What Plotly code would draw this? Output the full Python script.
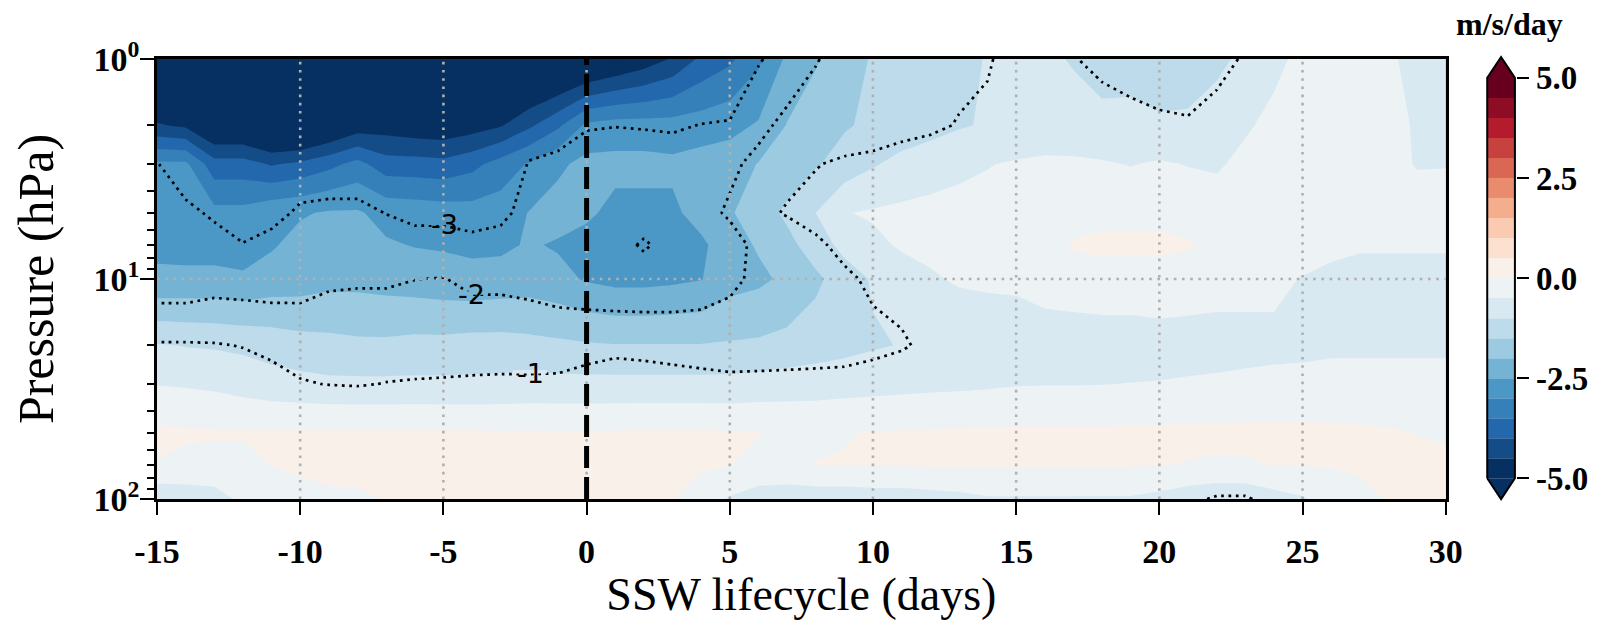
import numpy as np
import plotly.graph_objects as go

# ---------------------------------------------------------------------------
# Composite zonal-wind tendency across the SSW lifecycle
# ---------------------------------------------------------------------------
days = list(range(-15, 31))
plev = [1, 2, 3, 5, 7, 10, 20, 30, 50, 70, 100]

# Shaded field (m/s/day), one row per pressure level, days -15 .. 30
shade_1 = [-5.8, -5.9, -6.0, -6.1, -6.2, -6.2, -6.1, -6.0, -6.0, -6.1, -6.0, -5.9, -5.8, -5.7, -5.6,
           -5.4, -5.1, -4.8, -4.45, -3.9, -3.6, -3.1, -2.4, -2.05, -1.75, -1.45, -1.35, -1.2, -1.1, -0.98,
           -0.9, -0.95, -1.02, -1.15, -1.2, -1.2, -1.15, -1.05, -0.95, -0.6, -0.4, -0.3, -0.3, -0.45, -0.6, -0.7]
shade_2 = [-4.45, -4.6, -5.2, -5.2, -5.6, -5.6, -5.2, -4.8, -4.75, -4.85, -4.9, -4.75, -4.55, -4.1, -3.6,
           -2.9, -2.8, -2.8, -2.8, -2.75, -2.65, -2.45, -1.98, -1.75, -1.55, -1.4, -1.3, -1.2, -1.05, -0.95,
           -0.9, -0.85, -0.9, -0.9, -0.85, -0.95, -0.95, -0.9, -0.55, -0.4, -0.35, -0.3, -0.3, -0.35, -0.55, -0.6]
shade_3 = [-2.9, -2.9, -3.8, -3.8, -4.05, -3.9, -3.65, -3.34, -3.78, -3.8, -3.85, -3.65, -3.3, -2.95, -2.6,
           -2.35, -2.35, -2.35, -2.4, -2.3, -2.25, -1.98, -1.8, -1.55, -1.3, -1.05, -0.85, -0.7, -0.6, -0.52,
           -0.45, -0.4, -0.4, -0.45, -0.52, -0.45, -0.52, -0.55, -0.4, -0.35, -0.3, -0.3, -0.35, -0.4, -0.52, -0.52]
shade_5 = [-2.75, -2.8, -2.85, -2.85, -2.63, -2.55, -2.45, -2.45, -2.65, -2.7, -2.75, -2.8, -2.75, -2.48, -2.3,
           -2.4, -2.65, -2.65, -2.6, -2.3, -2.05, -1.75, -1.4, -1.0, -0.52, -0.45, -0.4, -0.38, -0.36, -0.35,
           -0.35, -0.3, -0.2, -0.15, -0.15, -0.15, -0.2, -0.3, -0.35, -0.35, -0.35, -0.35, -0.35, -0.35, -0.35, -0.3]
shade_7 = [-2.6, -2.65, -2.65, -2.65, -2.55, -2.35, -2.2, -2.3, -2.45, -2.52, -2.55, -2.6, -2.6, -2.45, -2.55,
           -2.7, -2.85, -2.9, -2.8, -2.6, -2.2, -1.95, -1.65, -1.25, -0.85, -0.6, -0.45, -0.4, -0.38, -0.36,
           -0.4, -0.2, 0.05, 0.1, 0.1, 0.1, 0.05, -0.1, -0.2, -0.25, -0.3, -0.4, -0.45, -0.45, -0.45, -0.45]
shade_10 = [-2.42, -2.4, -2.4, -2.45, -2.3, -2.25, -2.15, -2.15, -2.2, -2.25, -2.3, -2.35, -2.3, -2.25, -2.35,
            -2.55, -2.65, -2.65, -2.6, -2.52, -2.2, -2.1, -1.9, -1.6, -1.25, -0.95, -0.7, -0.55, -0.45, -0.42,
            -0.4, -0.3, -0.25, -0.2, -0.2, -0.2, -0.25, -0.3, -0.35, -0.4, -0.52, -0.6, -0.65, -0.65, -0.65, -0.65]
shade_20 = [-0.97, -1.02, -1.05, -1.1, -1.2, -1.3, -1.35, -1.4, -1.4, -1.35, -1.35, -1.3, -1.3, -1.35, -1.4,
            -1.45, -1.48, -1.48, -1.48, -1.48, -1.45, -1.42, -1.35, -1.25, -1.15, -1.05, -0.98, -0.9, -0.85, -0.8,
            -0.8, -0.75, -0.75, -0.75, -0.75, -0.7, -0.7, -0.7, -0.65, -0.6, -0.58, -0.55, -0.55, -0.55, -0.55, -0.55]
shade_30 = [-0.52, -0.55, -0.6, -0.7, -0.8, -0.85, -0.9, -0.9, -0.9, -0.9, -0.9, -0.9, -0.88, -0.85, -0.85,
            -0.85, -0.85, -0.85, -0.85, -0.85, -0.85, -0.8, -0.75, -0.72, -0.7, -0.68, -0.65, -0.62, -0.6, -0.57,
            -0.53, -0.52, -0.52, -0.51, -0.49, -0.48, -0.45, -0.42, -0.4, -0.4, -0.4, -0.4, -0.4, -0.4, -0.4, -0.4]
shade_50 = [0.1, 0.06, 0.05, 0.04, 0.05, 0.06, 0.06, 0.05, 0.05, 0.06, 0.05, 0.05, 0.04, 0.04, 0.03,
            0.02, 0.04, 0.05, 0.05, 0.05, 0.03, 0.01, -0.05, -0.08, -0.02, 0.02, 0.04, 0.05, 0.06, 0.07,
            0.08, 0.08, 0.08, 0.08, 0.08, 0.09, 0.1, 0.1, 0.11, 0.12, 0.12, 0.1, 0.08, 0.05, -0.01, -0.05]
shade_70 = [-0.02, -0.1, -0.15, -0.12, 0.01, 0.05, 0.08, 0.1, 0.11, 0.12, 0.12, 0.11, 0.1, 0.1, 0.1,
            0.1, 0.1, 0.1, 0.08, 0.05, 0.01, -0.1, -0.1, 0.01, 0.02, 0.02, 0.03, 0.05, 0.05, 0.05,
            0.05, 0.05, 0.05, 0.04, 0.03, 0.02, -0.02, -0.05, -0.04, 0.01, 0.02, 0.03, 0.05, 0.07, 0.08, 0.08]
shade_100 = [-0.9, -0.8, -0.7, -0.4, -0.2, -0.1, -0.05, -0.05, 0.01, 0.02, 0.05, 0.05, 0.05, 0.05, 0.05,
             0.05, 0.05, 0.02, 0.01, -0.2, -0.55, -0.75, -0.8, -0.8, -0.8, -0.75, -0.75, -0.7, -0.65, -0.55,
             -0.55, -0.55, -0.55, -0.55, -0.55, -0.65, -0.8, -0.9, -0.9, -0.7, -0.55, -0.3, -0.1, 0.02, 0.05, 0.05]

# Dotted contour field (m/s/day), same grid
line_1 = [-5.0, -5.1, -5.2, -5.2, -5.3, -5.3, -5.2, -5.1, -5.1, -5.2, -5.2, -5.1, -5.0, -4.9, -4.9,
          -4.8, -4.6, -4.4, -4.2, -4.0, -3.6, -3.1, -2.5, -2.05, -1.7, -1.5, -1.35, -1.25, -1.15, -1.05,
          -0.8, -0.85, -0.97, -1.15, -1.25, -1.3, -1.3, -1.15, -0.95, -0.8, -0.7, -0.65, -0.65, -0.7, -0.75, -0.8]
line_2 = [-3.6, -4.2, -4.3, -4.5, -4.4, -4.2, -4.1, -4.1, -4.2, -4.2, -4.2, -4.2, -4.1, -3.5, -3.4,
          -3.05, -3.02, -3.05, -3.1, -2.98, -2.95, -2.2, -1.8, -1.6, -1.4, -1.3, -1.15, -1.1, -0.97, -0.9,
          -0.8, -0.75, -0.7, -0.72, -0.82, -0.91, -0.95, -0.83, -0.7, -0.6, -0.55, -0.5, -0.5, -0.55, -0.6, -0.65]
line_3 = [-2.97, -3.4, -3.6, -3.8, -3.7, -3.4, -3.5, -3.5, -3.5, -3.7, -3.7, -3.7, -3.6, -2.95, -2.8,
          -2.7, -2.6, -2.6, -2.6, -2.4, -2.15, -1.8, -1.3, -1.03, -0.9, -0.85, -0.8, -0.7, -0.6, -0.55,
          -0.5, -0.45, -0.45, -0.45, -0.5, -0.5, -0.5, -0.5, -0.45, -0.4, -0.35, -0.35, -0.4, -0.45, -0.5, -0.5]
line_5 = [-2.8, -2.85, -3.1, -3.4, -3.2, -2.9, -2.8, -2.8, -3.02, -3.2, -3.2, -3.3, -3.2, -2.7, -2.6,
          -2.65, -2.75, -2.8, -2.7, -2.25, -1.9, -1.25, -0.92, -0.8, -0.7, -0.6, -0.5, -0.45, -0.4, -0.35,
          -0.3, -0.25, -0.2, -0.15, -0.15, -0.15, -0.2, -0.3, -0.35, -0.35, -0.35, -0.35, -0.35, -0.35, -0.35, -0.3]
line_7 = [-2.7, -2.75, -2.75, -2.97, -2.8, -2.7, -2.5, -2.45, -2.6, -2.7, -2.7, -2.8, -2.7, -2.5, -2.6,
          -2.75, -2.85, -3.05, -2.85, -2.5, -2.3, -1.8, -1.6, -1.1, -0.85, -0.7, -0.6, -0.5, -0.45, -0.4,
          -0.35, -0.2, 0.0, 0.05, 0.05, 0.05, 0.0, -0.1, -0.2, -0.25, -0.3, -0.4, -0.45, -0.45, -0.45, -0.45]
line_10 = [-2.62, -2.62, -2.42, -2.45, -2.45, -2.4, -2.15, -2.1, -2.1, -2.01, -1.97, -2.2, -2.2, -2.3, -2.45,
           -2.6, -2.8, -2.8, -2.75, -2.6, -2.2, -1.8, -1.55, -1.3, -1.1, -0.9, -0.85, -0.8, -0.7, -0.6,
           -0.45, -0.35, -0.3, -0.25, -0.25, -0.25, -0.3, -0.35, -0.4, -0.45, -0.5, -0.55, -0.6, -0.6, -0.6, -0.6]
line_20 = [-0.92, -0.92, -0.95, -1.03, -1.2, -1.3, -1.35, -1.4, -1.4, -1.35, -1.35, -1.35, -1.35, -1.35, -1.4,
           -1.3, -1.15, -1.2, -1.25, -1.3, -1.47, -1.4, -1.35, -1.3, -1.25, -1.15, -1.05, -0.9, -0.85, -0.8,
           -0.75, -0.75, -0.75, -0.75, -0.75, -0.7, -0.7, -0.7, -0.65, -0.6, -0.6, -0.6, -0.6, -0.6, -0.6, -0.6]
line_30 = [-0.6, -0.6, -0.65, -0.6, -0.7, -0.95, -1.02, -1.05, -0.98, -0.95, -0.93, -0.9, -0.88, -0.88, -0.85,
           -0.7, -0.7, -0.7, -0.75, -0.8, -0.79, -0.8, -0.8, -0.8, -0.8, -0.75, -0.7, -0.65, -0.6, -0.55,
           -0.5, -0.5, -0.5, -0.5, -0.5, -0.48, -0.45, -0.4, -0.38, -0.38, -0.4, -0.4, -0.4, -0.4, -0.4, -0.4]
line_50 = [0.1, 0.06, 0.05, 0.04, 0.05, 0.06, 0.06, 0.05, 0.05, 0.06, 0.05, 0.05, 0.04, 0.04, 0.03,
           0.02, 0.04, 0.05, 0.05, 0.05, 0.03, 0.01, -0.05, -0.08, -0.02, 0.02, 0.04, 0.05, 0.06, 0.07,
           0.08, 0.08, 0.08, 0.08, 0.08, 0.09, 0.1, 0.1, 0.11, 0.12, 0.12, 0.1, 0.08, 0.05, -0.01, -0.05]
line_70 = [-0.02, -0.1, -0.15, -0.12, 0.01, 0.05, 0.08, 0.1, 0.11, 0.12, 0.12, 0.11, 0.1, 0.1, 0.1,
           0.1, 0.1, 0.1, 0.08, 0.05, 0.01, -0.1, -0.1, 0.01, 0.02, 0.02, 0.03, 0.05, 0.05, 0.05,
           0.05, 0.05, 0.05, 0.04, 0.03, 0.02, -0.4, -0.5, -0.5, -0.4, 0.02, 0.03, 0.05, 0.07, 0.08, 0.08]
line_100 = [-0.6, -0.55, -0.55, -0.4, -0.2, -0.1, -0.05, -0.05, 0.01, 0.02, 0.05, 0.05, 0.05, 0.05, 0.05,
            0.05, 0.05, 0.02, 0.01, -0.1, -0.3, -0.5, -0.6, -0.6, -0.58, -0.55, -0.55, -0.55, -0.52, -0.5,
            -0.45, -0.45, -0.45, -0.45, -0.45, -0.6, -0.9, -1.05, -1.05, -0.85, -0.5, -0.3, -0.1, 0.02, 0.05, 0.05]

shade = [shade_1, shade_2, shade_3, shade_5, shade_7, shade_10, shade_20, shade_30, shade_50, shade_70, shade_100]
lines = [line_1, line_2, line_3, line_5, line_7, line_10, line_20, line_30, line_50, line_70, line_100]

# Contour levels, inline label spots (day, hPa) and axis labels
fill_start, fill_end, fill_step = -5.0, 5.0, 0.5
line_levels = [-3, -2, -1]
label_text = ["-3", "-2", "-1"]
label_day = [-4.96, -4.03, -1.97]
label_hpa = [5.68, 11.8, 26.9]
x_ticks = [-15, -10, -5, 0, 5, 10, 15, 20, 25, 30]
x_ticktext = ["-15", "-10", "-5", "0", "5", "10", "15", "20", "25", "30"]
y_ticks = [1, 10, 100]
y_ticktext = ["10<sup>0</sup>", "10<sup>1</sup>", "10<sup>2</sup>"]
y_minor = [2, 3, 4, 5, 6, 7, 8, 9, 20, 30, 40, 50, 60, 70, 80, 90]
cb_ticks = [-5.0, -2.5, 0.0, 2.5, 5.0]
cb_ticktext = ["-5.0", "-2.5", "0.0", "2.5", "5.0"]
onset_day = 0

# ---------------------------------------------------------------------------
# Discrete RdBu_r palette (same sampling as a 20-band filled contour)
# ---------------------------------------------------------------------------
_rdbu_r = ["#053061", "#2166ac", "#4393c3", "#92c5de", "#d1e5f0", "#f7f7f7",
           "#fddbc7", "#f4a582", "#d6604d", "#b2182b", "#67001f"]


def _hex2rgb(h):
    return np.array([int(h[i:i + 2], 16) for i in (1, 3, 5)], dtype=float)


_anchor_rgb = np.array([_hex2rgb(h) for h in _rdbu_r])


def rdbu_r(t):
    pos = np.linspace(0, 1, len(_rdbu_r))
    rgb = [np.interp(t, pos, _anchor_rgb[:, k]) for k in range(3)]
    return "rgb(%d,%d,%d)" % tuple(int(round(v)) for v in rgb)


fill_levels = np.arange(fill_start, fill_end + fill_step / 2, fill_step)
n_bands = len(fill_levels) - 1
band_colors = [rdbu_r(k / (n_bands - 1)) for k in range(n_bands)]
under_color, over_color = rdbu_r(0.0), rdbu_r(1.0)
all_colors = [under_color] + band_colors + [over_color]
colorscale = [[i / (len(all_colors) - 1), c] for i, c in enumerate(all_colors)]


def shade_color_at(day, hpa):
    """Band colour of the shaded field at a point (bilinear in day / log p)."""
    z = np.array(shade)
    lp = np.log10(plev)
    col = np.array([np.interp(day, days, row) for row in z])
    val = np.interp(np.log10(hpa), lp, col)
    k = int(np.clip(np.floor((val - fill_start) / fill_step), -1, n_bands))
    if k < 0:
        return under_color
    if k >= n_bands:
        return over_color
    return band_colors[k]


SERIF = "Liberation Serif"
TICK_FONT = dict(family=SERIF, size=34, color="black", weight="bold")
CB_TICK_FONT = dict(family=SERIF, size=33, color="black", weight="bold")
XTITLE_FONT = dict(family=SERIF, size=46, color="black")
YTITLE_FONT = dict(family=SERIF, size=50, color="black")
GRID = dict(color="#b0b0b0", width=2.6, dash="2.6px,5.6px")

fig = go.Figure()

# filled bands
fig.add_trace(go.Contour(
    x=days, y=plev, z=shade,
    autocontour=False,
    contours=dict(start=fill_start, end=fill_end, size=fill_step,
                  coloring="fill", showlines=False),
    colorscale=colorscale, showscale=False,
    line=dict(width=0, smoothing=0),
    hoverinfo="skip",
))

# dotted contour lines
fig.add_trace(go.Contour(
    x=days, y=plev, z=lines,
    autocontour=False,
    contours=dict(start=min(line_levels), end=max(line_levels), size=1,
                  coloring="none", showlabels=False),
    line=dict(color="black", width=2.7, dash="2.7px,4.6px", smoothing=0),
    showscale=False, hoverinfo="skip",
))

# dotted grid drawn above the shading
for xv in x_ticks[1:-1]:
    fig.add_trace(go.Scatter(x=[xv, xv], y=[plev[-1], plev[0]], mode="lines",
                             line=GRID, hoverinfo="skip", showlegend=False))
for yv in y_ticks[1:-1]:
    fig.add_trace(go.Scatter(x=[days[0], days[-1]], y=[yv, yv], mode="lines",
                             line=GRID, hoverinfo="skip", showlegend=False))

# onset marker
fig.add_trace(go.Scatter(x=[onset_day, onset_day], y=[plev[-1], plev[0]], mode="lines",
                         line=dict(color="black", width=5, dash="22px,9px"),
                         hoverinfo="skip", showlegend=False))

# ---------------------------------------------------------------------------
# Colour bar with triangular extensions
# ---------------------------------------------------------------------------
ext = 0.52
fig.add_trace(go.Bar(
    x=[0] * n_bands, y=[fill_step] * n_bands, base=list(fill_levels[:-1]),
    width=1.0, marker=dict(color=band_colors, line=dict(width=0)),
    xaxis="x2", yaxis="y2", hoverinfo="skip", showlegend=False,
))
lo, hi = fill_levels[0], fill_levels[-1]
fig.add_trace(go.Scatter(x=[-0.5, 0.5, 0, -0.5], y=[hi, hi, hi + ext, hi], mode="lines",
                         fill="toself", fillcolor=over_color, line=dict(width=0),
                         xaxis="x2", yaxis="y2", hoverinfo="skip", showlegend=False))
fig.add_trace(go.Scatter(x=[-0.5, 0.5, 0, -0.5], y=[lo, lo, lo - ext, lo], mode="lines",
                         fill="toself", fillcolor=under_color, line=dict(width=0),
                         xaxis="x2", yaxis="y2", hoverinfo="skip", showlegend=False))
fig.add_trace(go.Scatter(x=[-0.5, -0.5, 0, 0.5, 0.5, 0, -0.5],
                         y=[lo, hi, hi + ext, hi, lo, lo - ext, lo], mode="lines",
                         line=dict(color="black", width=2),
                         xaxis="x2", yaxis="y2", hoverinfo="skip", showlegend=False))

W, H = 1609, 620
ML, MR, MT, MB = 157, 0, 50, 115
plot_w = W - ML - MR
plot_h = H - MT - MB


def px_x(px):
    return (px - ML) / plot_w


def px_y(py):
    return (H - MB - py) / plot_h


# inline contour labels: a thin patch in the local band colour breaks the
# dotted line, then the label text sits on top
shapes = []
annotations = []
for txt, d, p in zip(label_text, label_day, label_hpa):
    shapes.append(dict(
        type="rect", layer="above", xref="x", yref="y",
        xsizemode="pixel", xanchor=d, x0=-17, x1=17,
        ysizemode="pixel", yanchor=p, y0=-3.5, y1=3.5,
        fillcolor=shade_color_at(d, p), line=dict(width=0),
    ))
    annotations.append(dict(
        text=txt, x=d, y=np.log10(p), xref="x", yref="y",
        showarrow=False, xanchor="center", yanchor="middle",
        font=dict(family="DejaVu Sans", size=27, color="black"),
    ))
annotations.append(dict(
    text="m/s/day", xref="paper", x=px_x(1526), yref="paper", y=px_y(24),
    xanchor="center", yanchor="middle", showarrow=False,
    font=dict(family=SERIF, size=32, color="black", weight="bold"),
))

fig.update_layout(
    width=W, height=H,
    margin=dict(l=ML, r=MR, t=MT, b=MB),
    paper_bgcolor="white", plot_bgcolor="white",
    font=dict(family=SERIF, color="black"),
    showlegend=False,
    barmode="overlay",
    xaxis=dict(
        domain=[0, px_x(1461)], range=[days[0], days[-1]],
        tickmode="array", tickvals=x_ticks, ticktext=x_ticktext,
        ticks="outside", ticklen=13, tickwidth=2, tickcolor="black",
        tickfont=TICK_FONT, ticklabelstandoff=7,
        showline=True, linewidth=2.5, linecolor="black", mirror=True,
        showgrid=False, zeroline=False, layer="above traces",
        title=dict(text="SSW lifecycle (days)", font=XTITLE_FONT, standoff=6),
    ),
    yaxis=dict(
        domain=[px_y(499), px_y(59)],
        type="log", range=[np.log10(plev[-1]), np.log10(plev[0])],
        tickmode="array", tickvals=y_ticks, ticktext=y_ticktext,
        ticks="outside", ticklen=14, tickwidth=2, tickcolor="black",
        tickfont=TICK_FONT, ticklabelstandoff=-6,
        minor=dict(tickvals=y_minor, ticks="outside", ticklen=7, tickwidth=1.6,
                   tickcolor="black", showgrid=False),
        showline=True, linewidth=2.5, linecolor="black", mirror=True,
        showgrid=False, zeroline=False, layer="above traces",
        title=dict(text="Pressure (hPa)", font=YTITLE_FONT, standoff=25),
    ),
    xaxis2=dict(
        domain=[px_x(1501.6), px_x(1532.4)], range=[-0.55, 0.55], anchor="y2",
        visible=False, fixedrange=True,
    ),
    yaxis2=dict(
        domain=[px_y(502.3), px_y(53.9)], range=[-5.6, 5.6], anchor="x2",
        side="right", tickmode="array", tickvals=cb_ticks, ticktext=cb_ticktext,
        ticks="outside", ticklen=12, tickwidth=2, tickcolor="black",
        tickfont=CB_TICK_FONT, ticklabelstandoff=0,
        showline=False, showgrid=False, zeroline=False,
    ),
    shapes=shapes,
    annotations=annotations,
)

fig.write_html("out.html")
